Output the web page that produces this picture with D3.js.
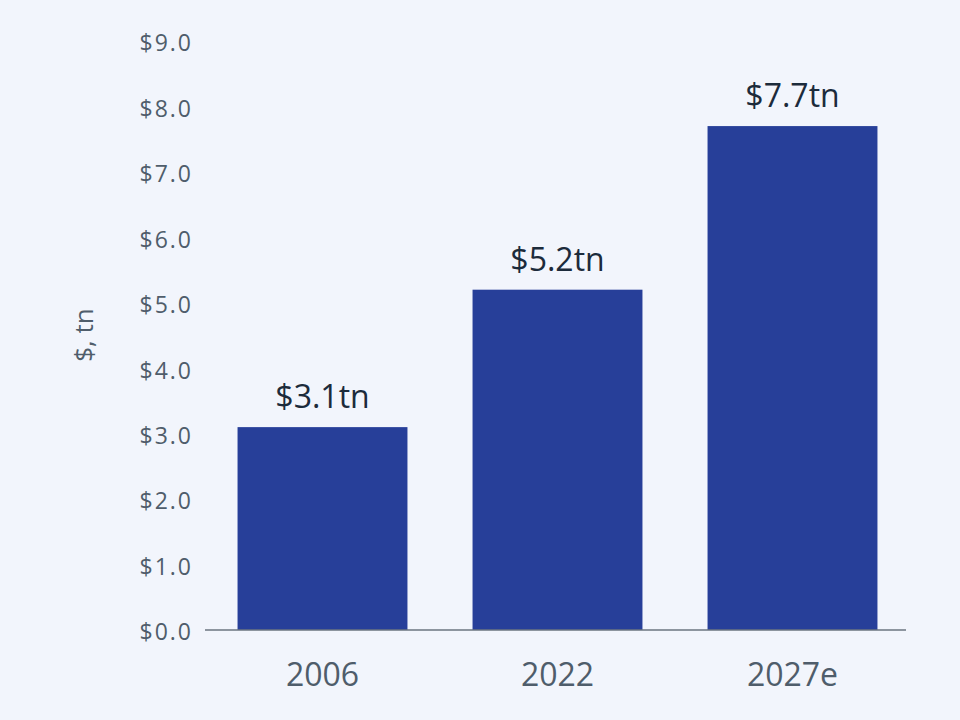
<!DOCTYPE html>
<html><head><meta charset="utf-8">
<script src="https://cdn.jsdelivr.net/npm/d3@7"></script>
<style>
html,body{margin:0;padding:0;background:#f2f5fc;}
svg{display:block;font-family:"Open Sans",sans-serif;}
</style></head>
<body><svg id="chart" width="960" height="720"></svg>
<script>
const categories = ["2006", "2022", "2027e"];
const values = [3.1, 5.2, 7.7];
const valueLabels = ["$3.1tn", "$5.2tn", "$7.7tn"];
const yTicks = [0, 1, 2, 3, 4, 5, 6, 7, 8, 9];
const yTitle = "$, tn";

const svg = d3.select("#chart");
svg.append("rect").attr("width", 960).attr("height", 720).attr("fill", "#f2f5fc");

const x = d3.scaleBand().domain(categories).range([205, 910]).paddingInner(0.277).paddingOuter(0.1385);
const y = d3.scaleLinear().domain([0, 9]).range([630, 41]);

// y tick labels
svg.append("g").selectAll("text").data(yTicks).join("text")
  .attr("x", 193).attr("y", d => y(d) + 2).attr("dy", "0.36em")
  .attr("text-anchor", "end").attr("font-size", 23).attr("letter-spacing", 2)
  .attr("fill", "#4f5d6b")
  .text(d => "$" + d3.format(".1f")(d));

// y title
svg.append("text").attr("transform", `translate(93,335) rotate(-90)`)
  .attr("text-anchor", "middle").attr("font-size", 26).attr("fill", "#4f5d6b")
  .text(yTitle);

// bars
svg.append("g").selectAll("rect").data(values).join("rect")
  .attr("x", (d, i) => x(categories[i])).attr("width", x.bandwidth())
  .attr("y", d => y(d)).attr("height", d => y(0) - y(d))
  .attr("fill", "#273f99");

// axis line
svg.append("line").attr("x1", 205).attr("x2", 906).attr("y1", y(0)).attr("y2", y(0))
  .attr("stroke", "#6b7480").attr("stroke-width", 1.5);

// value labels
svg.append("g").selectAll("text").data(values).join("text")
  .attr("x", (d, i) => x(categories[i]) + x.bandwidth() / 2)
  .attr("y", d => y(d) - 19)
  .attr("text-anchor", "middle").attr("font-size", 32).attr("fill", "#1c2b3b")
  .text((d, i) => valueLabels[i]);

// x labels
svg.append("g").selectAll("text").data(categories).join("text")
  .attr("x", d => x(d) + x.bandwidth() / 2).attr("y", 686)
  .attr("text-anchor", "middle").attr("font-size", 32).attr("fill", "#4f5d6b")
  .text(d => d);
</script></body></html>
